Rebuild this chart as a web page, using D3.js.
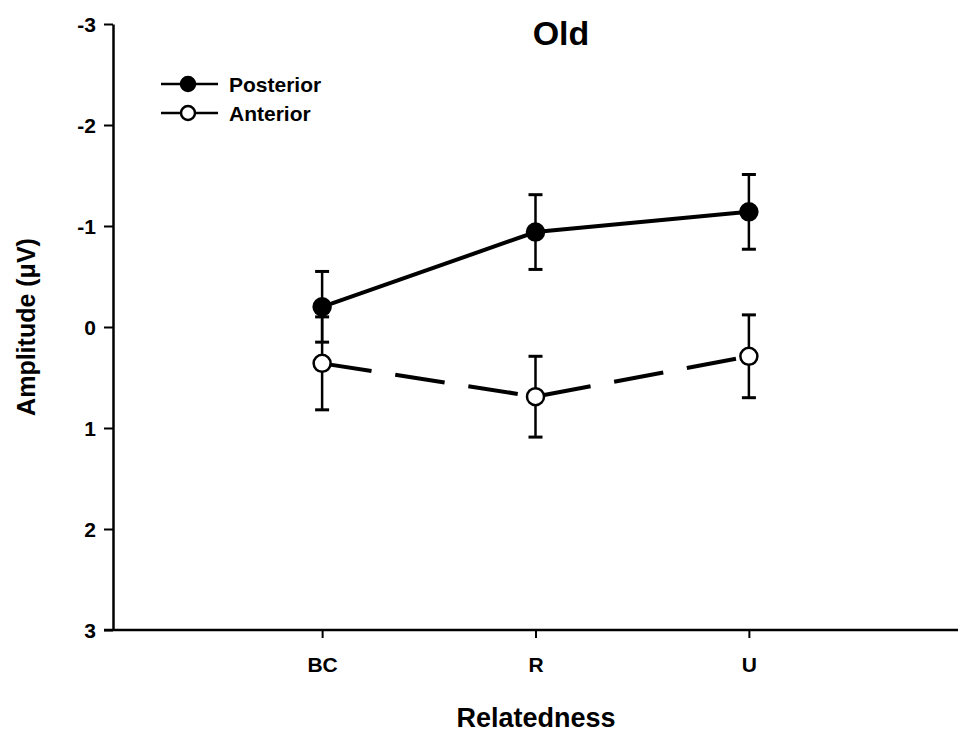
<!DOCTYPE html>
<html>
<head>
<meta charset="utf-8">
<script src="https://cdn.jsdelivr.net/npm/d3@7"></script>
<style>
  body { margin: 0; background: #fff; }
  text { font-family: "Liberation Sans", Arial, sans-serif; font-weight: bold; fill: #000; }
</style>
</head>
<body>
<div id="chart"></div>
<script>
// categories along the x axis
var categories = ["BC", "R", "U"];
// y ticks (axis is inverted: -3 on top)
var yTicks = [-3, -2, -1, 0, 1, 2, 3];

// mean amplitudes and error bar half-widths
var posteriorMean = [-0.20, -0.94, -1.14];
var posteriorErr  = [0.35, 0.37, 0.37];
var anteriorMean  = [0.36, 0.69, 0.29];
var anteriorErr   = [0.46, 0.40, 0.41];

var width = 958, height = 737;

var svg = d3.select("#chart").append("svg")
    .attr("width", width)
    .attr("height", height);

// scales
var x = d3.scalePoint()
    .domain(categories)
    .range([113, 958])
    .padding(0.98);

var y = d3.scaleLinear()
    .domain([-3, 3])
    .range([24, 630]);

// y axis
var yAxis = d3.axisLeft(y)
    .tickValues(yTicks)
    .tickFormat(function(d) { return String(d); })
    .tickSize(9)
    .tickSizeOuter(0)
    .tickPadding(8);

var gy = svg.append("g")
    .attr("transform", "translate(113,0)")
    .call(yAxis);
gy.select(".domain").attr("stroke-width", 2.5);
gy.selectAll(".tick line").attr("stroke-width", 2);
gy.selectAll(".tick text")
    .style("font-size", "21px")
    .attr("dy", "0.36em");

// x axis: long baseline running to the right edge
svg.append("line")
    .attr("x1", 104).attr("x2", 958)
    .attr("y1", y(3)).attr("y2", y(3))
    .attr("stroke", "#000")
    .attr("stroke-width", 2.5);

var xAxis = d3.axisBottom(x)
    .tickSize(8)
    .tickSizeOuter(0)
    .tickPadding(19);

var gx = svg.append("g")
    .attr("transform", "translate(0," + y(3) + ")")
    .call(xAxis);
gx.select(".domain").remove();
gx.selectAll(".tick line").attr("stroke-width", 2);
gx.selectAll(".tick text").style("font-size", "21px");

// axis titles
svg.append("text")
    .attr("x", 536).attr("y", 727)
    .attr("text-anchor", "middle")
    .style("font-size", "27px")
    .text("Relatedness");

svg.append("text")
    .attr("transform", "translate(35,327) rotate(-90)")
    .attr("text-anchor", "middle")
    .style("font-size", "25px")
    .text("Amplitude (\u03bcV)");

svg.append("text")
    .attr("x", 561).attr("y", 45)
    .attr("text-anchor", "middle")
    .style("font-size", "34px")
    .text("Old");

// series
var series = [
  { name: "Posterior", mean: posteriorMean, err: posteriorErr, fill: "#000", dash: null },
  { name: "Anterior",  mean: anteriorMean,  err: anteriorErr,  fill: "#fff", dash: "50,24" }
];

var line = d3.line()
    .x(function(d, i) { return x(categories[i]); })
    .y(function(d) { return y(d); });

series.forEach(function(s) {
  var g = svg.append("g");

  // error bars
  s.mean.forEach(function(m, i) {
    var cx = x(categories[i]);
    g.append("line")
        .attr("x1", cx).attr("x2", cx)
        .attr("y1", y(m - s.err[i])).attr("y2", y(m + s.err[i]))
        .attr("stroke", "#000").attr("stroke-width", 2.5);
    [m - s.err[i], m + s.err[i]].forEach(function(v) {
      g.append("line")
          .attr("x1", cx - 7).attr("x2", cx + 7)
          .attr("y1", y(v)).attr("y2", y(v))
          .attr("stroke", "#000").attr("stroke-width", 3);
    });
  });

  g.append("path")
      .datum(s.mean)
      .attr("d", line)
      .attr("fill", "none")
      .attr("stroke", "#000")
      .attr("stroke-width", 4)
      .attr("stroke-dasharray", s.dash);
});

// markers on top
series.forEach(function(s) {
  svg.append("g").selectAll("circle")
      .data(s.mean)
    .enter().append("circle")
      .attr("cx", function(d, i) { return x(categories[i]); })
      .attr("cy", function(d) { return y(d); })
      .attr("r", 8.5)
      .attr("fill", s.fill)
      .attr("stroke", "#000")
      .attr("stroke-width", 2.5);
});

// legend
var legend = svg.append("g").selectAll("g")
    .data(series)
  .enter().append("g")
    .attr("transform", function(d, i) { return "translate(0," + (84 + i * 29) + ")"; });

legend.append("line")
    .attr("x1", 161).attr("x2", 218)
    .attr("stroke", "#000").attr("stroke-width", 2.5);
legend.append("circle")
    .attr("cx", 188).attr("r", 7)
    .attr("fill", function(d) { return d.fill; })
    .attr("stroke", "#000").attr("stroke-width", 2.5);
legend.append("text")
    .attr("x", 229).attr("dy", "0.36em")
    .style("font-size", "21px")
    .text(function(d) { return d.name; });
</script>
</body>
</html>
